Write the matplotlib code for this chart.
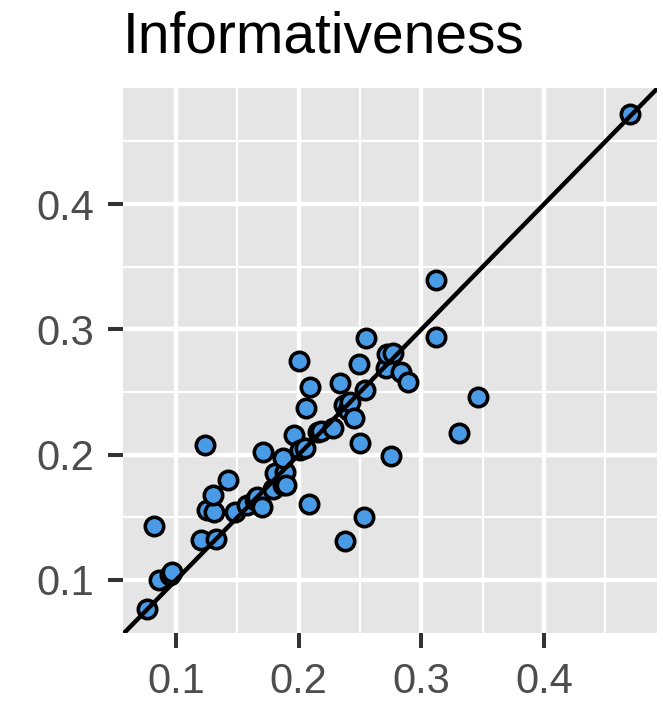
import matplotlib.pyplot as plt
from matplotlib.ticker import MultipleLocator

# observed vs predicted informativeness, one point per item
x = [0.076, 0.082, 0.086, 0.095, 0.097, 0.120, 0.124, 0.125, 0.131, 0.130,
     0.133, 0.142, 0.148, 0.158, 0.164, 0.166, 0.170, 0.171, 0.179, 0.181,
     0.187, 0.189, 0.190, 0.187, 0.196, 0.200, 0.201, 0.205, 0.206, 0.209,
     0.208, 0.216, 0.218, 0.228, 0.234, 0.237, 0.240, 0.242, 0.245, 0.238,
     0.249, 0.250, 0.254, 0.253, 0.255, 0.271, 0.272, 0.275, 0.277, 0.283,
     0.289, 0.312, 0.312, 0.331, 0.346, 0.470]
y = [0.077, 0.143, 0.100, 0.104, 0.106, 0.132, 0.208, 0.156, 0.154, 0.168,
     0.133, 0.180, 0.154, 0.160, 0.164, 0.166, 0.158, 0.202, 0.173, 0.185,
     0.176, 0.186, 0.176, 0.197, 0.216, 0.275, 0.204, 0.205, 0.237, 0.254,
     0.161, 0.218, 0.219, 0.221, 0.257, 0.240, 0.236, 0.242, 0.229, 0.131,
     0.272, 0.209, 0.252, 0.150, 0.293, 0.269, 0.280, 0.199, 0.281, 0.266,
     0.258, 0.294, 0.339, 0.217, 0.246, 0.472]
ticks = [0.1, 0.2, 0.3, 0.4]
tick_labels = ['0.1', '0.2', '0.3', '0.4']

fig = plt.figure(figsize=(6.63, 7.01), dpi=100)
ax = fig.add_axes([0.1855, 0.097, 0.8055, 0.7775])
ax.set_facecolor('#E5E5E5')
for s in ax.spines.values():
    s.set_visible(False)

ax.set_xlim(0.0568, 0.492)
ax.set_ylim(0.0577, 0.4926)
ax.xaxis.set_minor_locator(MultipleLocator(0.05))
ax.yaxis.set_minor_locator(MultipleLocator(0.05))
ax.grid(which='major', color='white', linewidth=3.2)
ax.grid(which='minor', color='white', linewidth=1.6)
ax.set_axisbelow(True)

ax.tick_params(which='major', length=10.8, width=2.9, color='#333333',
               labelsize=30, labelcolor='#4D4D4D', pad=10)
ax.tick_params(which='minor', length=0)
ax.set_xticks(ticks)
ax.set_yticks(ticks)
ax.set_xticklabels(tick_labels, family='Liberation Sans')
ax.set_yticklabels(tick_labels, family='Liberation Sans')

ax.scatter(x, y, s=175, c='#4A9BE6', edgecolors='black', linewidths=2.6, zorder=3)
ax.axline((0, 0), slope=1, color='black', linewidth=3.2, zorder=4)

fig.text(0.1855, 0.925, 'Informativeness', fontsize=41, family='Liberation Sans',
         ha='left', va='baseline')

fig.savefig('out.png', dpi=100)
